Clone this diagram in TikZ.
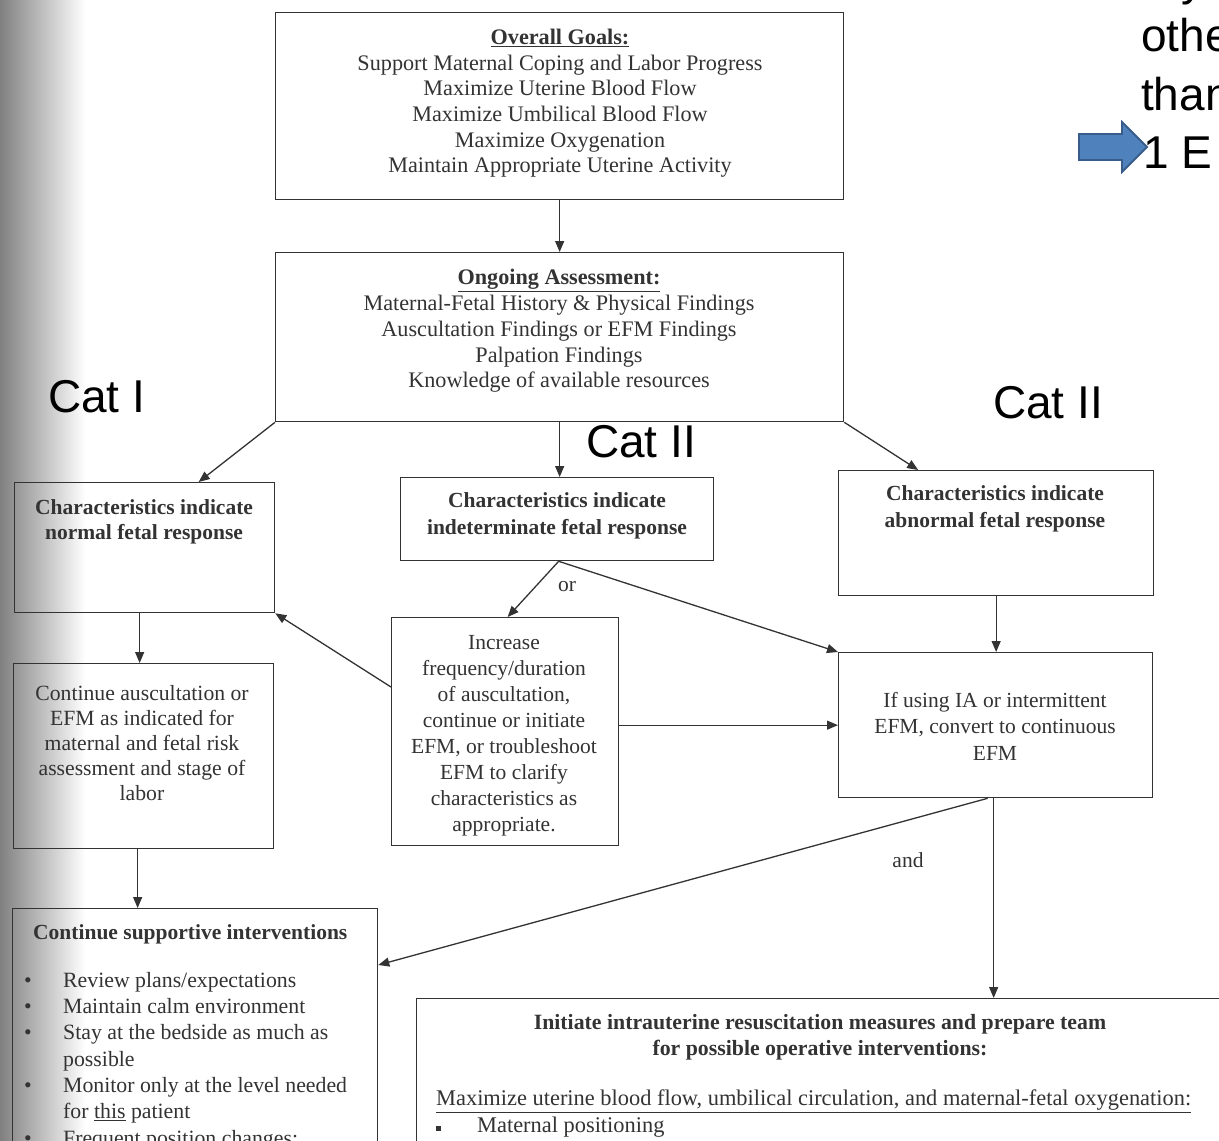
\documentclass[tikz,border=0pt]{standalone}
\usepackage{fontspec}
\setmainfont{Liberation Serif}
\newfontfamily\arialf{Liberation Sans}
\usetikzlibrary{arrows.meta}
\definecolor{ink}{gray}{0.2}
\definecolor{arrowblue}{HTML}{4F81BD}
\definecolor{arrowedge}{HTML}{385D8A}
\begin{document}
\begin{tikzpicture}[x=1pt,y=-1pt,
  box/.style={draw=ink, line width=1.3pt, inner sep=0pt, anchor=north west},
  conn/.style={draw=ink, line width=1.3pt, -{Triangle[length=11pt,width=9pt]}},
  txt/.style={text=ink, font=\fontsize{21.5}{25.8}\selectfont, align=center, inner sep=0pt, anchor=north},
  btxt/.style={txt, font=\fontsize{21.5}{27}\selectfont\bfseries},
  catlabel/.style={text=black, font=\arialf\fontsize{46}{55}\selectfont, inner sep=0pt, anchor=base west},
  side/.style={text=black, font=\arialf\fontsize{46}{58.5}\selectfont, inner sep=0pt, anchor=base west}
]
\clip (0,0) rectangle (1219,1141);
\fill[white] (0,0) rectangle (1219,1141);
\shade[left color=black!50, right color=white] (0,0) rectangle (85,1141);

% boxes
\node[box, minimum width=568pt, minimum height=187pt] (goals) at (275,12) {};
\node[box, minimum width=568pt, minimum height=169pt] (assess) at (275,252) {};
\node[box, minimum width=260pt, minimum height=130pt] (normal) at (14,482) {};
\node[box, minimum width=313pt, minimum height=83pt] (indet) at (400,477) {};
\node[box, minimum width=315pt, minimum height=125pt] (abnorm) at (838,470) {};
\node[box, minimum width=227pt, minimum height=228pt] (incr) at (391,617) {};
\node[box, minimum width=260pt, minimum height=185pt] (contA) at (13,663) {};
\node[box, minimum width=314pt, minimum height=145pt] (convert) at (838,652) {};
\node[box, minimum width=365pt, minimum height=300pt] (support) at (12,908) {};
\node[box, minimum width=820pt, minimum height=300pt] (resus) at (416,998) {};

% texts
\node[txt, font=\fontsize{22.2}{25.6}\selectfont] (tgoals) at (560,29)
 {\textbf{\underline{Overall Goals:}}\\Support Maternal Coping and Labor Progress\\Maximize Uterine Blood Flow\\Maximize Umbilical Blood Flow\\Maximize Oxygenation\\Maintain Appropriate Uterine Activity};
\node[txt, font=\fontsize{22.2}{25.8}\selectfont] (tassess) at (559,269)
 {\textbf{\underline{Ongoing Assessment:}}\\Maternal-Fetal History \& Physical Findings\\Auscultation Findings or EFM Findings\\Palpation Findings\\Knowledge of available resources};
\node[btxt, font=\fontsize{21.5}{25.5}\selectfont\bfseries] (tnormal) at (144,499) {Characteristics indicate\\normal fetal response};
\node[btxt] (tindet) at (557,492) {Characteristics indicate\\indeterminate fetal response};
\node[btxt] (tabnorm) at (995,485) {Characteristics indicate\\abnormal fetal response};
\node[txt, font=\fontsize{21.5}{26}\selectfont] (tincr) at (504,635)
 {Increase\\frequency/duration\\of auscultation,\\continue or initiate\\EFM, or troubleshoot\\EFM to clarify\\characteristics as\\appropriate.};
\node[txt, font=\fontsize{21.7}{25}\selectfont] (tcontA) at (142,685)
 {Continue auscultation or\\EFM as indicated for\\maternal and fetal risk\\assessment and stage of\\labor};
\node[txt, font=\fontsize{21.5}{26.5}\selectfont] (tconvert) at (995,692)
 {If using IA or intermittent\\EFM, convert to continuous\\EFM};
\node[btxt, anchor=north west] (tsupport) at (33,924) {Continue supportive interventions};
\node[txt, align=left, anchor=north west, font=\fontsize{21.8}{26.3}\selectfont] (tsuplist) at (24,972)
 {\makebox[39pt][l]{•}Review plans/expectations\\
  \makebox[39pt][l]{•}Maintain calm environment\\
  \makebox[39pt][l]{•}Stay at the bedside as much as\\
  \hspace*{39pt}possible\\
  \makebox[39pt][l]{•}Monitor only at the level needed\\
  \hspace*{39pt}for \underline{this} patient\\
  \makebox[39pt][l]{•}Frequent position changes;};
\node[btxt, font=\fontsize{21.8}{26}\selectfont\bfseries] (tresus) at (820,1014)
 {Initiate intrauterine resuscitation measures and prepare team\\for possible operative interventions:};
\node[txt, align=left, anchor=north west, font=\fontsize{22.4}{27}\selectfont] (tresus2) at (436,1090)
 {\underline{Maximize uterine blood flow, umbilical circulation, and maternal-fetal oxygenation:}\\
  \makebox[41pt][l]{\raisebox{2pt}{\rule{5pt}{5pt}}}Maternal positioning};

% connector labels
\node[txt, anchor=center] (lor) at (567,587) {or};
\node[txt, anchor=center] (land) at (908,860) {and};

% connectors
\draw[conn] (goals.south) -- (assess.north);
\draw[conn] (assess.south west) -- ([xshift=54pt]normal.north);
\draw[conn] (assess.south) -- (assess.south |- indet.north);
\draw[conn] (assess.south east) -- ([xshift=-78pt]abnorm.north);
\draw[conn] ([xshift=-5pt]normal.south) -- ([xshift=-5pt]normal.south |- contA.north);
\draw[conn] ([xshift=-6pt]contA.south) -- ([xshift=-6pt]contA.south |- support.north);
\draw[conn] (abnorm.south) -- (abnorm.south |- convert.north);
\draw[conn] ([xshift=1.5pt]indet.south) -- ([xshift=2.5pt]incr.north);
\draw[conn] ([xshift=1.5pt]indet.south) -- (convert.north west);
\draw[conn] (convert.west -| incr.east) -- (convert.west);
\draw[conn] ([yshift=-70pt]incr.north west) -- (normal.south east);
\draw[conn] ([xshift=-8pt]convert.south) -- ([yshift=-57pt]support.north east);
\draw[conn] ([xshift=-2pt]convert.south) -- ([xshift=-2pt]convert.south |- resus.north);

% category labels
\node[catlabel] (cat1) at (48,412) {Cat I};
\node[catlabel] (cat2a) at (586,457) {Cat II};
\node[catlabel] (cat2b) at (993,418) {Cat II};

% right margin text
\node[side] (sidey) at (1181,-5) {y};
\node[side] (sideother) at (1141,51) {other};
\node[side] (sidethan) at (1141,110) {than};
\node[side] (sideone) at (1143,168) {1 E};
\draw[fill=arrowblue, draw=arrowedge, line width=1.8pt, line join=miter]
  (1079,134) -- (1122,134) -- (1122,122) -- (1147,147) -- (1122,172) -- (1122,160) -- (1079,160) -- cycle;
\coordinate (sidearrowtip) at (1147,147);
\end{tikzpicture}
\end{document}
